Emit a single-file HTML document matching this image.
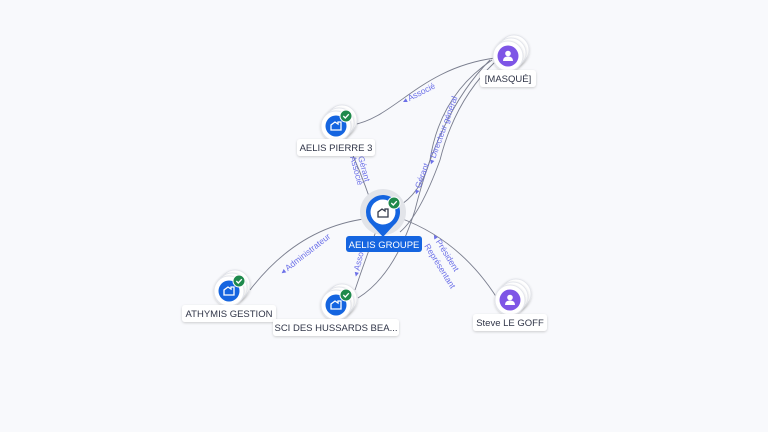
<!DOCTYPE html>
<html><head><meta charset="utf-8"><style>
html,body{margin:0;padding:0;background:#f8f9fc;width:768px;height:432px;overflow:hidden}
svg text{font-family:"Liberation Sans",sans-serif}
</style></head><body>
<svg width="768" height="432" viewBox="0 0 768 432">
<defs>
<filter id="sh" x="-50%" y="-50%" width="200%" height="200%"><feDropShadow dx="0" dy="1" stdDeviation="1.2" flood-color="#000" flood-opacity="0.18"/></filter>
<g id="stack">
<circle cx="6" cy="-6" r="15" fill="#fff" stroke="#e4e6ec" filter="url(#sh)"/>
<circle cx="3" cy="-3" r="15" fill="#fff" stroke="#e4e6ec" filter="url(#sh)"/>
<circle cx="0" cy="0" r="15" fill="#fff" stroke="#e4e6ec" filter="url(#sh)"/>
</g>
<g id="comp">
<use href="#stack"/>
<circle r="10.5" fill="#1565e0"/>
<path d="M-5 4 V-1 L-1 -4 L2 -2 V-4 H5 V4 Z" fill="none" stroke="#fff" stroke-width="1.3"/>
<circle cx="10" cy="-10" r="6" fill="#1f8a4c" stroke="#fff" stroke-width="1"/>
<path d="M7.3 -10 L9.3 -8 L12.8 -11.8" fill="none" stroke="#fff" stroke-width="1.3"/>
</g>
<g id="pers">
<use href="#stack"/>
<circle r="10.5" fill="#7e55e6"/>
<circle cy="-2.5" r="2.8" fill="#fff"/>
<path d="M-5 5 Q-5 0.5 0 0.5 Q5 0.5 5 5 Z" fill="#fff"/>
</g>
</defs>
<g fill="none" stroke="#7a7e8e" stroke-width="0.9">
<path d="M352 125 C395 118 420 68 495 58"/>
<path d="M492 60 Q440 95 430 160 Q420 195 397 207"/>
<path d="M495 62 Q455 100 440 160 Q420 215 400 232"/>
<path d="M490 60 Q440 110 415 210 Q395 275 358 298"/>
<path d="M346 140 Q360 170 371 202"/>
<path d="M372 218 Q300 225 250 290"/>
<path d="M378 226 Q365 260 355 290"/>
<path d="M400 218 Q460 240 497 298"/>
</g>
<g font-size="8.5" fill="#6c70e8">
<text transform="translate(404 104) rotate(-27)">◂ Associé</text>
<text transform="translate(433 165) rotate(-70)">◂ Directeur général</text>
<text transform="translate(418 195) rotate(-70)">◂ Gérant</text>
<text transform="translate(358 157) rotate(75)">Gérant</text>
<text transform="translate(350 157) rotate(75)">Associé</text>
<text transform="translate(283 275) rotate(-38)">◂ Administrateur</text>
<text transform="translate(358 277) rotate(-77)">◂ Associé</text>
<text transform="translate(432 236) rotate(58)">◂ Président</text>
<text transform="translate(424 246) rotate(58)">Représentant</text>
</g>
<use href="#pers" x="508" y="56"/>
<use href="#comp" x="336" y="126"/>
<use href="#comp" x="229" y="291"/>
<use href="#comp" x="336" y="305"/>
<use href="#pers" x="510" y="300"/>
<circle cx="383" cy="212" r="23" fill="#e2e4e9"/>
<path d="M366 212 A17 17 0 1 1 394 225 L383 237 L372 225 A17 17 0 0 1 366 212 Z" fill="#1565e0"/>
<circle cx="383" cy="212" r="12.5" fill="#fff"/>
<path d="M378 217 V212 L382 209 L385 211 V209 H388 V217 Z" fill="none" stroke="#333a4a" stroke-width="1.3"/>
<circle cx="394" cy="203" r="6" fill="#1f8a4c" stroke="#fff"/>
<path d="M391.3 203 L393.3 205 L396.8 201.2" fill="none" stroke="#fff" stroke-width="1.3"/>
<g font-size="9.5" fill="#2f3447" text-anchor="middle">
<rect x="480" y="70" width="56" height="17" rx="3" fill="#fff" filter="url(#sh)"/>
<text x="508" y="82">[MASQUÉ]</text>
<rect x="297" y="139" width="78" height="17" rx="3" fill="#fff" filter="url(#sh)"/>
<text x="336" y="151">AELIS PIERRE 3</text>
<rect x="182" y="305" width="94" height="17" rx="3" fill="#fff" filter="url(#sh)"/>
<text x="229" y="317">ATHYMIS GESTION</text>
<rect x="273" y="319" width="126" height="17" rx="3" fill="#fff" filter="url(#sh)"/>
<text x="336" y="331">SCI DES HUSSARDS BEA...</text>
<rect x="473" y="314" width="74" height="17" rx="3" fill="#fff" filter="url(#sh)"/>
<text x="510" y="326">Steve LE GOFF</text>
<rect x="346" y="236" width="76" height="16" rx="3" fill="#1565e0"/>
<text x="384" y="248" fill="#fff">AELIS GROUPE</text>
</g>
</svg>
</body></html>
